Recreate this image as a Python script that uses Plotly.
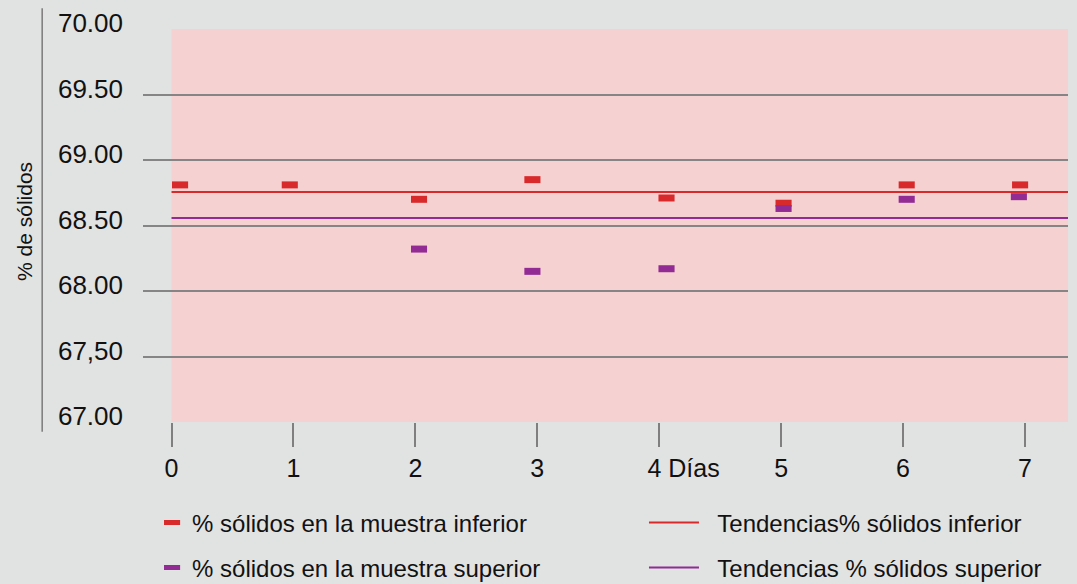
import plotly.graph_objects as go

# ---- data ----
days = [0, 1, 2, 3, 4, 5, 6, 7]
x_labels = ["0", "1", "2", "3", "\u00a0" * 7 + "4 Días", "5", "6", "7"]
inferior_x = [0.07, 0.97, 2.03, 2.96, 4.06, 5.02, 6.03, 6.96]
inferior_y = [68.81, 68.81, 68.70, 68.85, 68.71, 68.67, 68.81, 68.81]
superior_x = [2.03, 2.96, 4.06, 5.02, 6.03, 6.95]
superior_y = [68.32, 68.15, 68.17, 68.63, 68.70, 68.72]
trend_inferior = 68.755
trend_superior = 68.557
y_tickvals = [67.0, 67.5, 68.0, 68.5, 69.0, 69.5, 70.0]
y_ticktext = ["67.00", "67,50", "68.00", "68.50", "69.00", "69.50", "70.00"]

names = ["% sólidos en la muestra inferior", "% sólidos en la muestra superior",
         "Tendencias% sólidos inferior", "Tendencias % sólidos superior"]

RED = "#d92a2b"
PURPLE = "#922b94"
FONT = "Liberation Sans, Arial, sans-serif"
x_range = [-0.234, 7.353]
y_range = [67.0, 70.0]
GAP = "\u00a0\u00a0"

fig = go.Figure()

fig.add_trace(go.Scatter(
    x=inferior_x, y=inferior_y, mode="markers", name=names[0], legend="legend",
    marker=dict(symbol="line-ew", size=11.5, color=RED, line=dict(color=RED, width=7))))
fig.add_trace(go.Scatter(
    x=superior_x, y=superior_y, mode="markers", name=names[1], legend="legend2",
    marker=dict(symbol="line-ew", size=11.5, color=PURPLE, line=dict(color=PURPLE, width=7))))
fig.add_trace(go.Scatter(
    x=[days[0], x_range[1]], y=[trend_inferior, trend_inferior], mode="lines",
    name=GAP + names[2], legend="legend3", line=dict(color=RED, width=2)))
fig.add_trace(go.Scatter(
    x=[days[0], x_range[1]], y=[trend_superior, trend_superior], mode="lines",
    name=GAP + names[3], legend="legend4", line=dict(color=PURPLE, width=2)))

# pink plotting region
fig.add_shape(type="rect", xref="x", yref="y", x0=days[0], x1=x_range[1],
              y0=y_range[0], y1=y_range[1], fillcolor="#f6d1d1", line_width=0, layer="below")
# vertical axis rule at far left
fig.add_shape(type="line", xref="paper", yref="paper", x0=-0.109, x1=-0.109,
              y0=1.053, y1=-0.025, line=dict(color="#7a7a7a", width=1.5))

fig.add_annotation(text="% de sólidos", xref="paper", yref="paper", x=-0.1276, y=0.5115,
                   xanchor="center", yanchor="middle",
                   textangle=-90, showarrow=False, font=dict(family=FONT, size=21, color="#111"))

leg_common = dict(orientation="v", xanchor="left", yanchor="middle", bgcolor="rgba(0,0,0,0)",
                  font=dict(family=FONT, size=24, color="#111"))
fig.update_layout(
    width=1077, height=584, showlegend=True,
    margin=dict(l=143, r=9, t=29, b=162, autoexpand=False),
    paper_bgcolor="#e1e2e2", plot_bgcolor="#e1e2e2",
    font=dict(family=FONT, color="#111"),
    legend=dict(x=0.0098, y=-0.257, itemwidth=30, **leg_common),
    legend2=dict(x=0.0098, y=-0.3715, itemwidth=30, **leg_common),
    legend3=dict(x=0.5416, y=-0.257, itemwidth=50, **leg_common),
    legend4=dict(x=0.5416, y=-0.3715, itemwidth=50, **leg_common),
    xaxis=dict(range=x_range, tickvals=days, ticktext=x_labels, showgrid=False,
               zeroline=False, showline=False, ticks="outside", ticklen=24, tickwidth=2,
               tickcolor="#7f7f7f", tickfont=dict(family=FONT, size=25, color="#111")),
    yaxis=dict(range=y_range, tickvals=y_tickvals, ticktext=y_ticktext, showgrid=True,
               gridcolor="#858585", gridwidth=2, zeroline=False, showline=False, ticks="",
               ticklabelstandoff=19, ticklabelshift=-6,
               tickfont=dict(family=FONT, size=26, color="#111")),
)

fig.write_html("out.html", config={"displayModeBar": False},
               post_script="document.body.style.margin='0';document.body.style.overflow='hidden';")
